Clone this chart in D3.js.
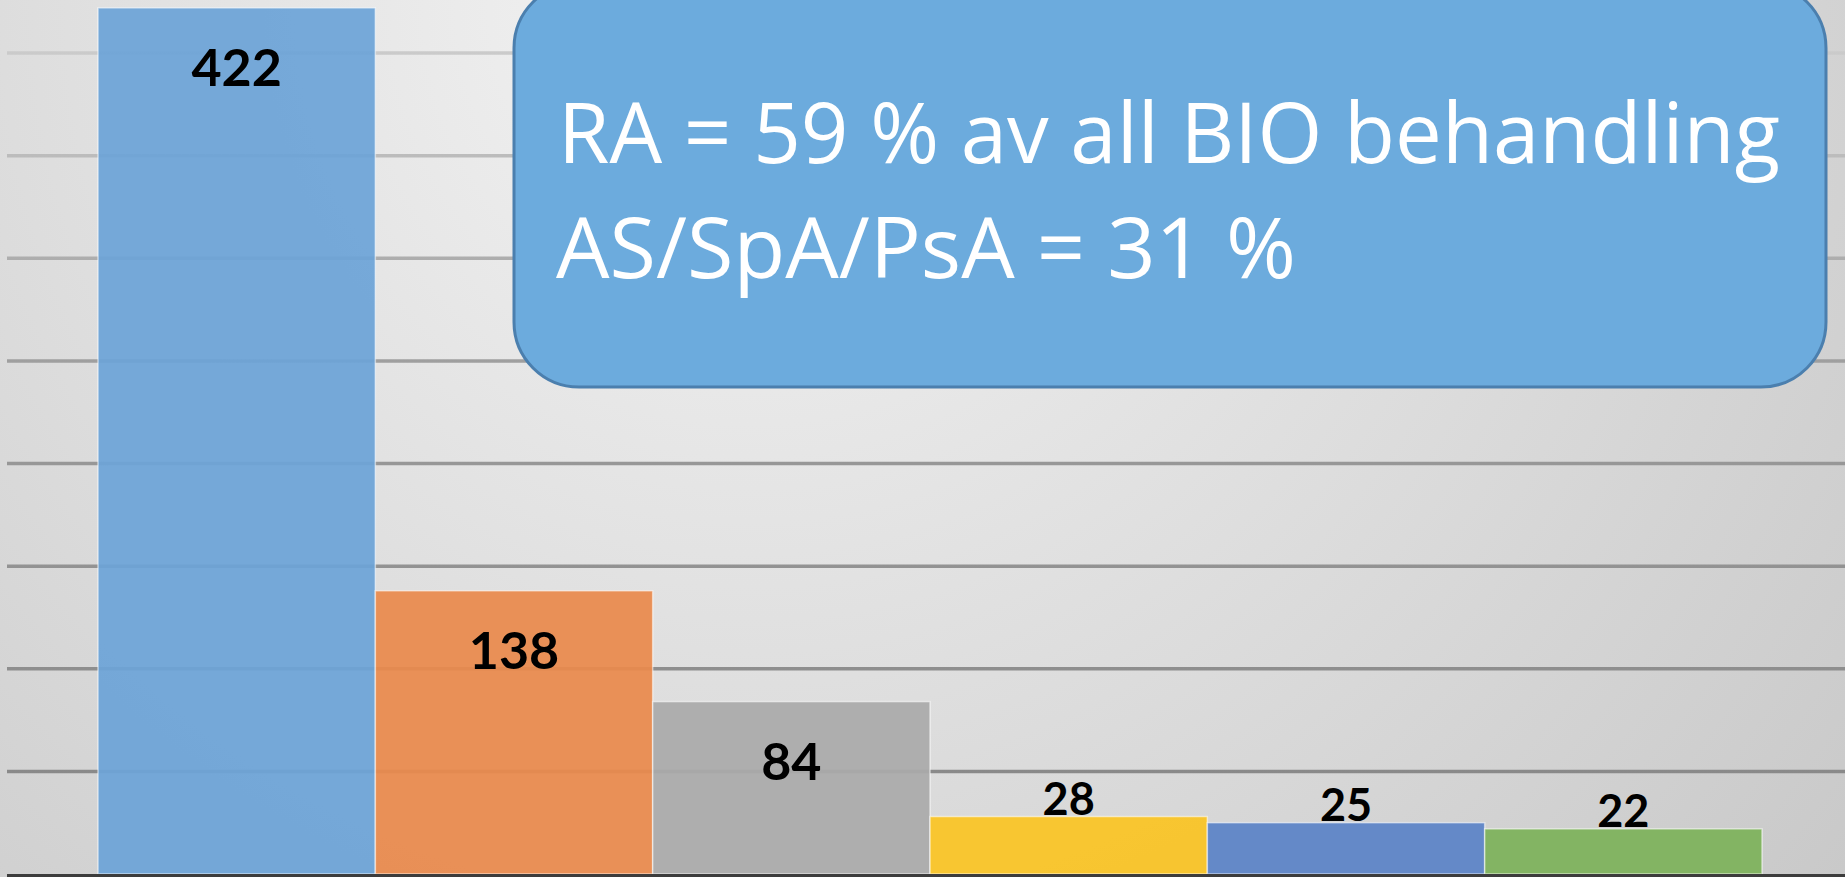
<!DOCTYPE html>
<html>
<head>
<meta charset="utf-8">
<script src="https://cdn.jsdelivr.net/npm/d3@7"></script>
<style>
  body { margin: 0; overflow: hidden; }
  svg { display: block; }
</style>
</head>
<body>
<script>
// kategorier (visas inte i bilden) och antal BIO-behandlingar
const categories = ["RA", "AS/SpA", "PsA", "Kat4", "Kat5", "Kat6"];
const values = [422, 138, 84, 28, 25, 22];
const barColors = ["#6da4d7", "#e98a4c", "#aaaaaa", "#fac423", "#5b83c7", "#7db15a"];
const calloutLines = ["RA = 59 % av all BIO behandling", "AS/SpA/PsA = 31 %"];

async function draw(){

  const width = 1845, height = 877;

  let svg = d3.select('body')
    .append("svg")
    .attr('width', width)
    .attr('height', height);

  const defs = svg.append("defs");

  // bakgrund, ljus upptill mot mitten
  const bg = defs.append("radialGradient")
    .attr("id", "bg")
    .attr("gradientUnits", "userSpaceOnUse")
    .attr("cx", 750).attr("cy", 0).attr("r", 1400);
  bg.append("stop").attr("offset", 0).attr("stop-color", "#f4f4f4");
  bg.append("stop").attr("offset", 1).attr("stop-color", "#c9c9c9");

  // stödlinjerna blir mörkare nedåt
  const gl = defs.append("linearGradient")
    .attr("id", "grid")
    .attr("gradientUnits", "userSpaceOnUse")
    .attr("x1", 0).attr("y1", 0).attr("x2", 0).attr("y2", height);
  gl.append("stop").attr("offset", 0).attr("stop-color", "#d2d2d2");
  gl.append("stop").attr("offset", 0.45).attr("stop-color", "#9a9a9a");
  gl.append("stop").attr("offset", 1).attr("stop-color", "#858585");

  svg.append("rect")
    .attr("width", width).attr("height", height)
    .attr("fill", "url(#bg)");

  const x = d3.scaleBand()
    .domain(categories)
    .range([98, 1762])
    .paddingInner(0);

  const y = d3.scaleLinear()
    .domain([0, 400])
    .range([874, 53]);

  // gridlines
  svg.append("g")
    .selectAll("line")
    .data(y.ticks(8).filter(t => t > 0))
    .join("line")
    .attr("x1", 7)
    .attr("x2", width)
    .attr("y1", d => y(d))
    .attr("y2", d => y(d))
    .attr("stroke", "url(#grid)")
    .attr("stroke-width", 3.5);

  const data = categories.map((c, i) => ({cat: c, value: values[i], color: barColors[i]}));

  svg.append("g")
    .selectAll("rect")
    .data(data)
    .join("rect")
    .attr("x", d => x(d.cat))
    .attr("y", d => y(d.value))
    .attr("width", x.bandwidth())
    .attr("height", d => y(0) - y(d.value))
    .attr("fill", d => d.color)
    .attr("fill-opacity", 0.93)
    .attr("stroke", "rgba(255,255,255,0.55)")
    .attr("stroke-width", 1.5);

  // baslinje
  svg.append("line")
    .attr("x1", 7).attr("x2", width)
    .attr("y1", y(0) + 2).attr("y2", y(0) + 2)
    .attr("stroke", "#3c3c3c")
    .attr("stroke-width", 4);

  // datalabels: inne i stapeln om den är hög, annars ovanför
  svg.append("g")
    .selectAll("text")
    .data(data)
    .join("text")
    .attr("x", d => x(d.cat) + x.bandwidth() / 2)
    .attr("y", d => d.value > 50 ? y(d.value) + 78 : y(d.value) - 2)
    .attr("text-anchor", "middle")
    .attr("font-family", "Lato, sans-serif")
    .attr("font-weight", "bold")
    .attr("font-size", d => d.value > 50 ? 52 : 45)
    .attr("fill", "#000")
    .text(d => d.value);

  // textruta
  const box = svg.append("g");
  box.append("rect")
    .attr("x", 514).attr("y", -17)
    .attr("width", 1312).attr("height", 404)
    .attr("rx", 65).attr("ry", 65)
    .attr("fill", "#6cabdd")
    .attr("stroke", "#4b7fae")
    .attr("stroke-width", 3);

  const lineX = [558, 556];
  const lineY = [163, 278];
  const lineW = [1222, 740];
  box.selectAll("text")
    .data(calloutLines)
    .join("text")
    .attr("x", (d, i) => lineX[i])
    .attr("y", (d, i) => lineY[i])
    .attr("textLength", (d, i) => lineW[i])
    .attr("lengthAdjust", "spacingAndGlyphs")
    .attr("font-family", "'Open Sans', sans-serif")
    .attr("font-size", 84)
    .attr("fill", "#fff")
    .text(d => d);
}

draw();
</script>
</body>
</html>
